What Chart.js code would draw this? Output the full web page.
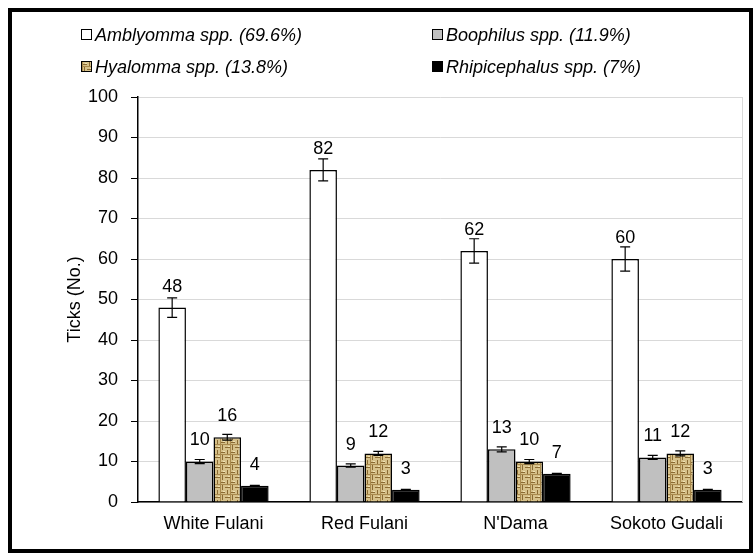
<!DOCTYPE html>
<html>
<head>
<meta charset="utf-8">
<script src="https://cdn.jsdelivr.net/npm/chart.js@4/dist/chart.umd.min.js"></script>
<style>
  body { margin: 0; background: #fff; }
  #wrap { position: relative; width: 756px; height: 556px; }
  #frame { position: absolute; left: 8px; top: 8px; width: 745px; height: 545px;
           box-sizing: border-box; border: 4px solid #000; pointer-events: none; }
  .leg { position: absolute; font: italic 18px "Liberation Sans", Arial, sans-serif;
         color: #000; line-height: 20px; white-space: nowrap; }
  .leg i { display: inline-block; width: 9px; height: 9px; border: 1.5px solid #000;
           margin-right: 3px; vertical-align: 1px; }
</style>
</head>
<body>
<div id="wrap">
  <canvas id="myChart" width="756" height="556"></canvas>
  <div id="frame"></div>
  <div class="leg" style="left:81px; top:25px"><i style="background:#fff"></i>Amblyomma spp. (69.6%)</div>
  <div class="leg" style="left:432px; top:25px"><i style="background:#c0c0c0"></i>Boophilus spp. (11.9%)</div>
  <div class="leg" style="left:81px; top:57px"><i id="hyaBox"></i>Hyalomma spp. (13.8%)</div>
  <div class="leg" style="left:432px; top:57px"><i style="background:#000"></i>Rhipicephalus spp. (7%)</div>
</div>
<script>
const breeds = ["White Fulani", "Red Fulani", "N'Dama", "Sokoto Gudali"];
const amblyomma = [48, 82, 62, 60];
const boophilus = [10, 9, 13, 11];
const hyalomma = [16, 12, 10, 12];
const rhipicephalus = [4, 3, 7, 3];

// error bar half-lengths
const amblyommaErr = [2.4, 2.7, 3, 3];
const boophilusErr = [0.5, 0.4, 0.6, 0.5];
const hyalommaErr = [0.7, 0.5, 0.5, 0.6];
const rhipicephalusErr = [0.1, 0.1, 0.1, 0.1];

const yTicks = { min: 0, max: 100, step: 10 };

// burlap-like texture for Hyalomma
function weaveTile() {
  const c = document.createElement("canvas");
  c.width = 10; c.height = 10;
  const g = c.getContext("2d");
  g.fillStyle = "#d6c18a";
  g.fillRect(0, 0, 10, 10);
  g.fillStyle = "#8a6a32";
  g.fillRect(0, 2, 5, 1); g.fillRect(5, 7, 5, 1);
  g.fillRect(2, 5, 1, 5); g.fillRect(7, 0, 1, 5);
  g.fillStyle = "#a98a4e";
  g.fillRect(0, 0, 1, 10); g.fillRect(0, 4, 10, 1);
  g.fillStyle = "#efe2b4";
  g.fillRect(3, 1, 2, 1); g.fillRect(8, 6, 2, 1);
  return c;
}
const tile = weaveTile();
document.getElementById("hyaBox").style.background = "url(" + tile.toDataURL() + ")";

const canvas = document.getElementById("myChart");
const hyaPattern = canvas.getContext("2d").createPattern(tile, "repeat");

const errorsAndLabels = {
  id: "errorsAndLabels",
  afterDatasetsDraw(chart) {
    const ctx = chart.ctx;
    const y = chart.scales.y;
    ctx.save();
    chart.data.datasets.forEach((ds, i) => {
      const meta = chart.getDatasetMeta(i);
      meta.data.forEach((bar, j) => {
        const v = ds.data[j];
        const e = ds.errors[j];
        const top = y.getPixelForValue(v + e);
        const bot = y.getPixelForValue(v - e);
        ctx.strokeStyle = "#000";
        ctx.lineWidth = 1.2;
        ctx.beginPath();
        ctx.moveTo(bar.x, top); ctx.lineTo(bar.x, bot);
        ctx.moveTo(bar.x - 5, top); ctx.lineTo(bar.x + 5, top);
        ctx.moveTo(bar.x - 5, bot); ctx.lineTo(bar.x + 5, bot);
        ctx.stroke();
        ctx.fillStyle = "#000";
        ctx.font = '18px "Liberation Sans", Arial, sans-serif';
        ctx.textAlign = "center";
        ctx.textBaseline = "middle";
        ctx.fillText(String(v), bar.x, bar.y - 21);
      });
    });
    // light border on the right of the plot area
    const a = chart.chartArea;
    ctx.strokeStyle = "#d9d9d9";
    ctx.lineWidth = 1;
    ctx.beginPath();
    ctx.moveTo(a.right + 0.5, a.top); ctx.lineTo(a.right + 0.5, a.bottom);
    ctx.stroke();
    ctx.restore();
  }
};

const data = {
  labels: breeds,
  datasets: [
    { label: "Amblyomma spp. (69.6%)", data: amblyomma, errors: amblyommaErr,
      backgroundColor: "#ffffff", borderColor: "#000", borderWidth: 1.5 },
    { label: "Boophilus spp. (11.9%)", data: boophilus, errors: boophilusErr,
      backgroundColor: "#c0c0c0", borderColor: "#000", borderWidth: 1.5 },
    { label: "Hyalomma spp. (13.8%)", data: hyalomma, errors: hyalommaErr,
      backgroundColor: hyaPattern, borderColor: "#000", borderWidth: 1.5 },
    { label: "Rhipicephalus spp. (7%)", data: rhipicephalus, errors: rhipicephalusErr,
      backgroundColor: "#000", borderColor: "#000", borderWidth: 1.5 }
  ]
};

const config = {
  type: "bar",
  data: data,
  options: {
    responsive: false,
    animation: false,
    devicePixelRatio: 1,
    layout: { padding: { left: 0, right: 14, top: 97, bottom: 0 } },
    datasets: { bar: { categoryPercentage: 0.73, barPercentage: 1 } },
    plugins: { legend: { display: false }, tooltip: { enabled: false } },
    scales: {
      x: {
        grid: { display: false, drawTicks: false },
        border: { color: "#000", width: 1.5 },
        ticks: { color: "#000", padding: 11,
                 font: { family: '"Liberation Sans", Arial, sans-serif', size: 18 } },
        afterFit: (s) => { s.height = 54; }
      },
      y: {
        min: yTicks.min, max: yTicks.max,
        ticks: { stepSize: yTicks.step, color: "#000", padding: 13,
                 font: { family: '"Liberation Sans", Arial, sans-serif', size: 18 } },
        grid: { color: "#d9d9d9", tickColor: "#000", tickLength: 7, lineWidth: 1 },
        border: { color: "#000", width: 1.5 },
        title: { display: true, text: "Ticks (No.)", color: "#000", padding: { top: 64, bottom: 0 },
                 font: { family: '"Liberation Sans", Arial, sans-serif', size: 18 } },
        afterFit: (s) => { s.width = 138; }
      }
    }
  },
  plugins: [errorsAndLabels]
};

const myChart = new Chart(canvas, config);
</script>
</body>
</html>
